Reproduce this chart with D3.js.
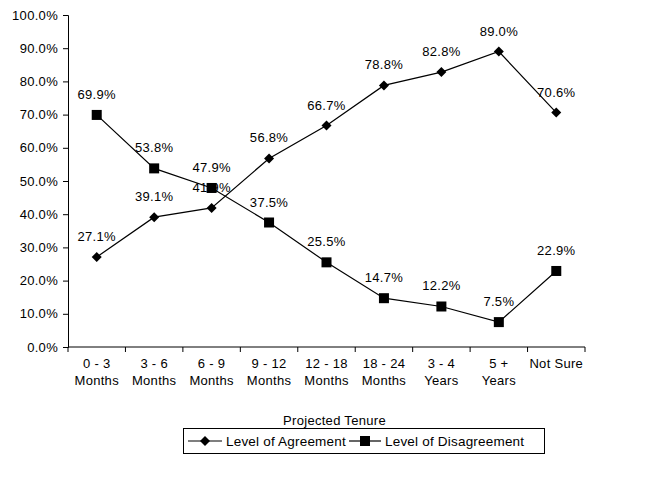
<!DOCTYPE html>
<html><head><meta charset="utf-8">
<script src="https://cdn.jsdelivr.net/npm/d3@7"></script>
<style>body{margin:0;background:#fff}svg{display:block;font-family:"Liberation Sans",Arial,sans-serif}text{letter-spacing:0.3px}</style>
</head><body><svg id="c" width="654" height="477"></svg>
<script>
const categories = [["0 - 3","Months"],["3 - 6","Months"],["6 - 9","Months"],["9 - 12","Months"],["12 - 18","Months"],["18 - 24","Months"],["3 - 4","Years"],["5 +","Years"],["Not Sure"]];
const agreement = [27.1, 39.1, 41.9, 56.8, 66.7, 78.8, 82.8, 89.0, 70.6];
const disagreement = [69.9, 53.8, 47.9, 37.5, 25.5, 14.7, 12.2, 7.5, 22.9];
const yTicks = [0,10,20,30,40,50,60,70,80,90,100];
const seriesNames = ["Level of Agreement","Level of Disagreement"];

const FS = 13;
const svg = d3.select("#c");
const L = 68, R = 585, T = 15, B = 347;
const x = d3.scaleBand().domain(d3.range(categories.length)).range([L, R]);
const y = d3.scaleLinear().domain([0, 100]).range([B, T]);

const ya = svg.append("g").attr("transform",`translate(${L},0)`)
  .call(d3.axisLeft(y).tickValues(yTicks).tickSize(5).tickFormat(d=>d.toFixed(1)+"%"));
ya.selectAll("text").attr("font-size",FS).attr("fill","#000").attr("font-family","Liberation Sans, Arial").attr("dx",-2);
ya.select(".domain").attr("stroke","#000");
ya.selectAll("line").attr("stroke","#000");

const xa = svg.append("g").attr("transform",`translate(0,${B})`)
  .call(d3.axisBottom(x).tickSize(0).tickFormat(""));
xa.select(".domain").attr("d",`M${L},0H${R}`).attr("stroke","#000");
svg.append("g").selectAll("line").data(d3.range(categories.length+1)).join("line")
  .attr("x1",i=>L+i*x.step()).attr("x2",i=>L+i*x.step()).attr("y1",B).attr("y2",B+5).attr("stroke","#000");

const lab = svg.append("g").attr("font-size",FS).attr("text-anchor","middle");
categories.forEach((c,i)=>{
  c.forEach((s,j)=>{
    lab.append("text").attr("x",x(i)+x.bandwidth()/2).attr("y",368+j*17).text(s);
  });
});
svg.append("text").attr("x",(L+R)/2+8).attr("y",425).attr("text-anchor","middle").attr("font-size",FS).text("Projected Tenure");

const cx = i => x(i)+x.bandwidth()/2;
const line = d3.line().x((d,i)=>cx(i)).y(d=>y(d));
svg.append("path").attr("d",line(agreement)).attr("fill","none").attr("stroke","#000").attr("stroke-width",1.2);
svg.append("path").attr("d",line(disagreement)).attr("fill","none").attr("stroke","#000").attr("stroke-width",1.2);

const dia = d3.symbol().type(d3.symbolSquare).size(50)();
svg.append("g").selectAll("path").data(agreement).join("path")
  .attr("transform",(d,i)=>`translate(${cx(i)},${y(d)}) rotate(45)`)
  .attr("d",dia).attr("fill","#000");
svg.append("g").selectAll("rect").data(disagreement).join("rect")
  .attr("x",(d,i)=>cx(i)-5).attr("y",d=>y(d)-5).attr("width",10).attr("height",10).attr("fill","#000");

const fmt = d=>d.toFixed(1)+"%";
const labs = svg.append("g").attr("font-size",FS).attr("text-anchor","middle");
agreement.forEach((d,i)=>labs.append("text").attr("x",cx(i)).attr("y",y(d)-16).text(fmt(d)));
disagreement.forEach((d,i)=>labs.append("text").attr("x",cx(i)).attr("y",y(d)-16).text(fmt(d)));

// legend
const lg = svg.append("g");
lg.append("rect").attr("x",183.5).attr("y",428.5).attr("width",361).attr("height",25).attr("fill","#fff").attr("stroke","#000");
lg.append("line").attr("x1",188).attr("x2",222).attr("y1",441).attr("y2",441).attr("stroke","#000").attr("stroke-width",1.2);
lg.append("path").attr("transform","translate(205,441) rotate(45)").attr("d",dia);
lg.append("text").attr("x",226).attr("y",445.5).attr("font-size",13.5).style("letter-spacing","0.2px").text(seriesNames[0]);
lg.append("line").attr("x1",349).attr("x2",381).attr("y1",441).attr("y2",441).attr("stroke","#000").attr("stroke-width",1.2);
lg.append("rect").attr("x",360).attr("y",436).attr("width",10).attr("height",10);
lg.append("text").attr("x",385).attr("y",445.5).attr("font-size",13.5).style("letter-spacing","0.2px").text(seriesNames[1]);
</script></body></html>
